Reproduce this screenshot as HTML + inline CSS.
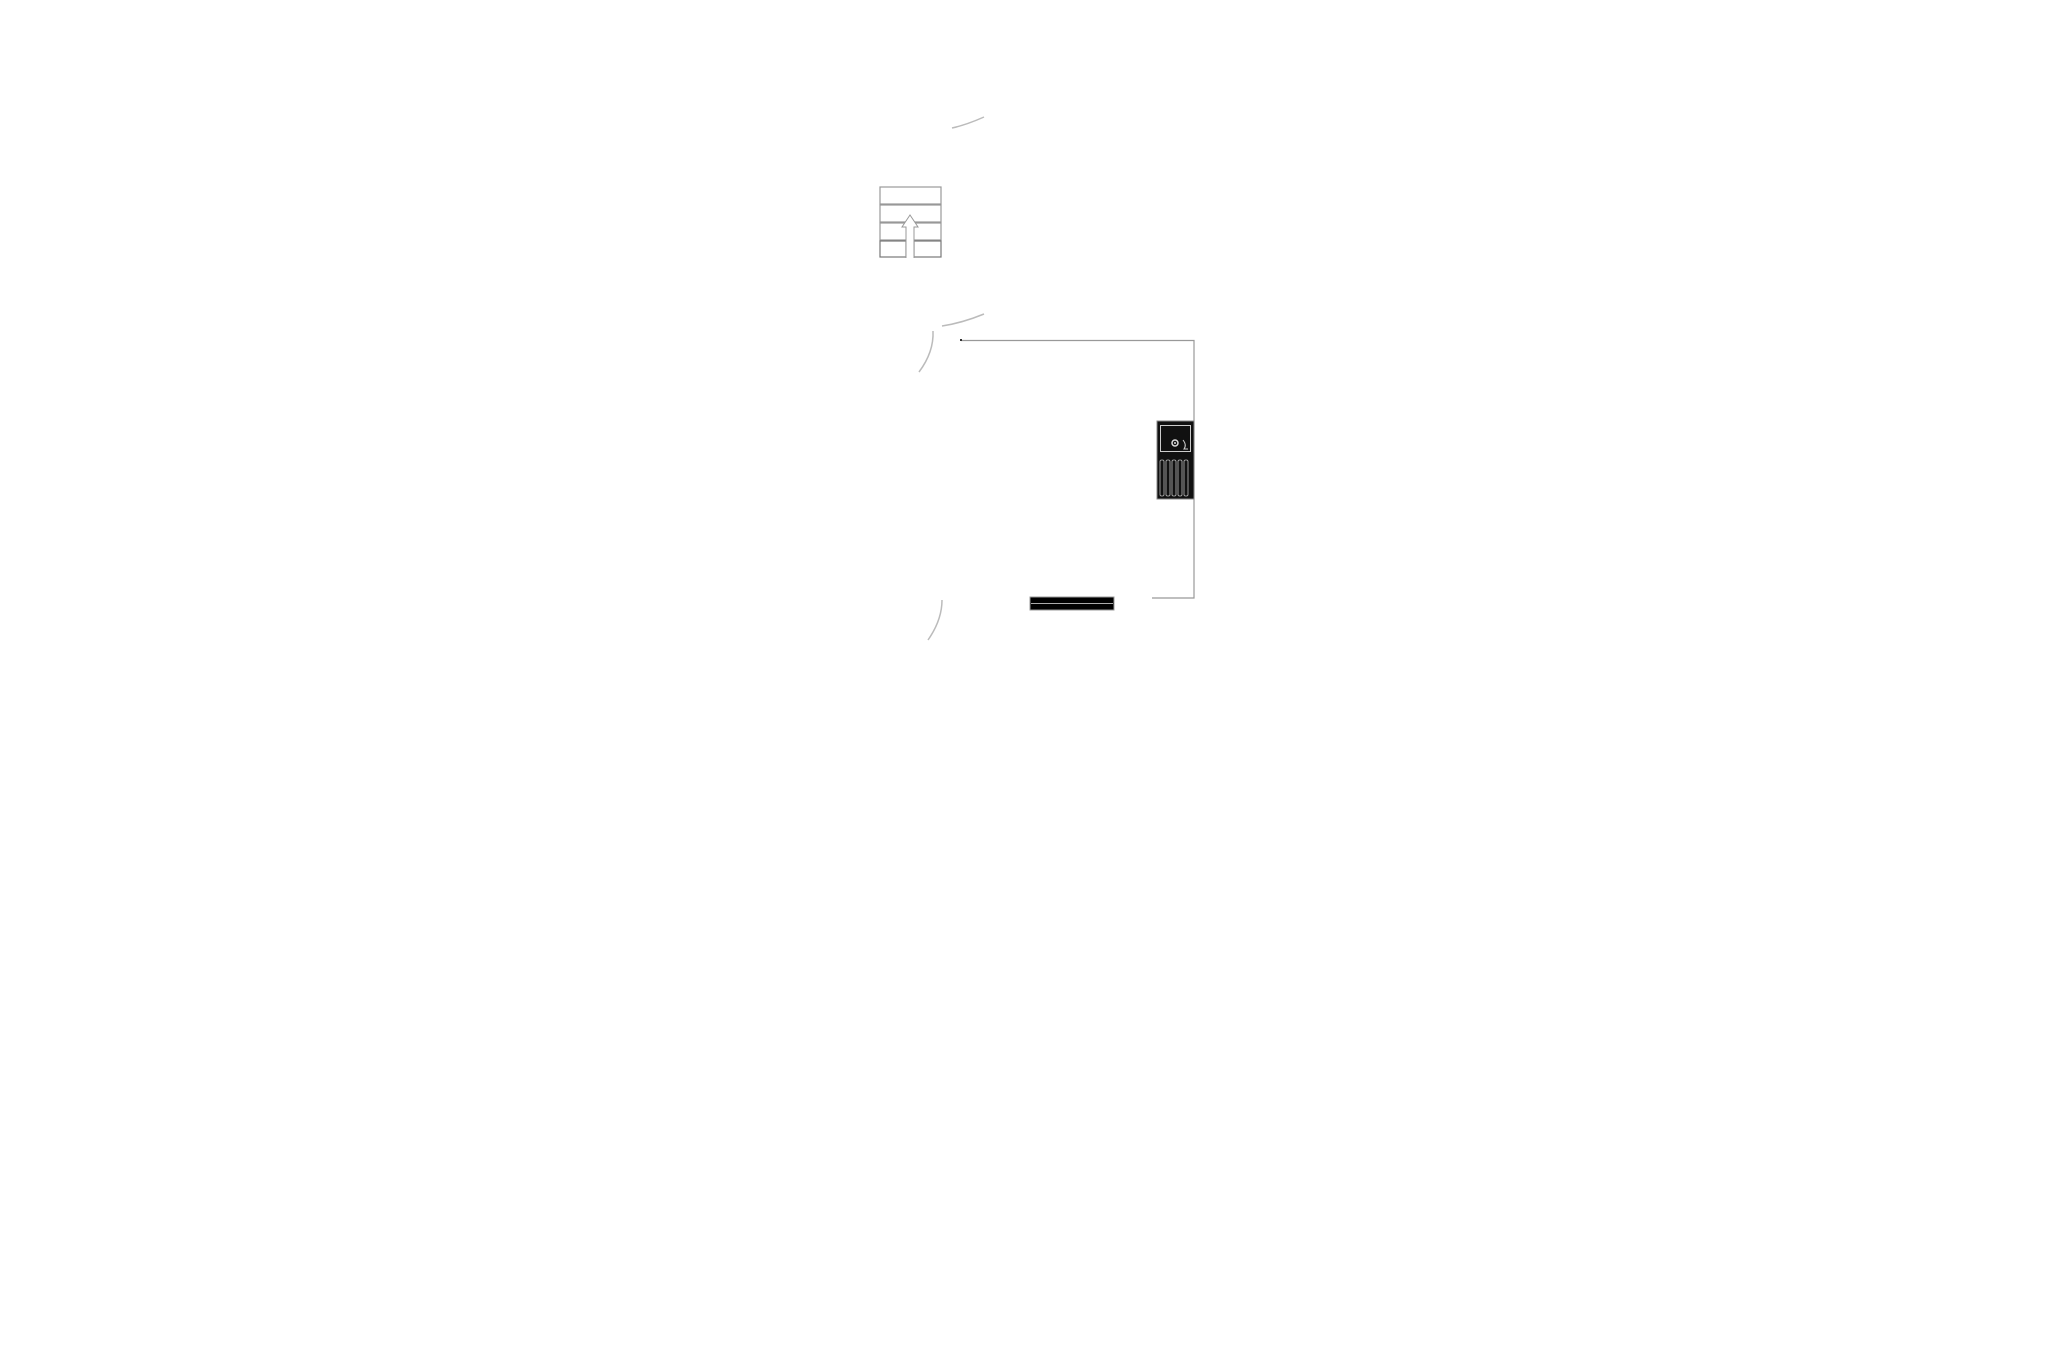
<!DOCTYPE html>
<html><head><meta charset="utf-8"><style>html,body{margin:0;padding:0;background:#fff}svg{display:block}</style></head>
<body>
<svg width="2057" height="1371" viewBox="0 0 2057 1371" xmlns="http://www.w3.org/2000/svg">
<rect width="2057" height="1371" fill="#fff"/>
<g fill="none" stroke="#bbb" stroke-width="1.5">
<path d="M952 128 Q966 125 984 117"/>
<path d="M942 326 Q962 323 984 314"/>
<path d="M933 331 Q934 352 919 372"/>
<path d="M942 600 Q942 620 928 640"/>
</g>
<g fill="none" stroke="#999" stroke-width="1.2">
<rect x="880" y="187" width="61" height="17"/>
<rect x="880" y="205" width="61" height="17"/>
<rect x="880" y="223" width="61" height="17"/>
</g>
<g fill="none" stroke="#777" stroke-width="1.2">
<rect x="880" y="241" width="26" height="16"/>
<rect x="914" y="241" width="27" height="16"/>
</g>
<path d="M906 258 L906 227 L902 227 L910 215 L918 227 L914 227 L914 258" fill="#fff" stroke="#999" stroke-width="1"/>
<g stroke="#999" stroke-width="1.2" fill="none">
<path d="M961 340.5 L1194 340.5 L1194 598 L1152 598"/>
</g>
<rect x="960" y="339" width="2" height="2" fill="#333"/>
<rect x="1157" y="421" width="37" height="78" fill="#111" stroke="#888" stroke-width="1"/>
<rect x="1160.5" y="425.5" width="30" height="26" fill="none" stroke="#ccc" stroke-width="1"/>
<circle cx="1175" cy="443" r="3" fill="none" stroke="#ddd" stroke-width="1.5"/>
<circle cx="1175" cy="443" r="1" fill="#ddd"/>
<path d="M1183 440 Q1187 445 1184 449 L1188 449" fill="none" stroke="#ccc" stroke-width="1"/>
<g fill="none" stroke="#bbb" stroke-width="0.8">
<rect x="1160" y="460" width="4" height="36" rx="1.5"/>
<rect x="1166" y="460" width="4" height="36" rx="1.5"/>
<rect x="1172" y="460" width="4" height="36" rx="1.5"/>
<rect x="1178" y="460" width="4" height="36" rx="1.5"/>
<rect x="1184" y="460" width="4" height="36" rx="1.5"/>
</g>
<rect x="1030" y="597" width="84" height="13" fill="#000" stroke="#999" stroke-width="1"/>
<line x1="1031" y1="603.5" x2="1113" y2="603.5" stroke="#aaa" stroke-width="1"/>
</svg>
</body></html>
